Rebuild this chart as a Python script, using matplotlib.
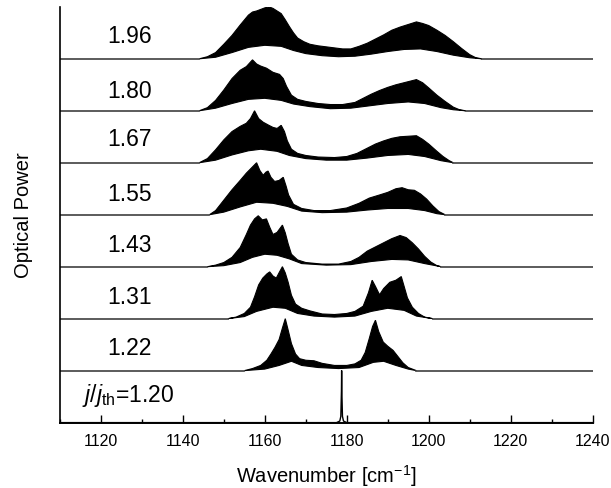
import numpy as np
import matplotlib.pyplot as plt

plt.rcParams['font.family'] = ['Liberation Sans', 'DejaVu Sans']
plt.rcParams['mathtext.fontset'] = 'custom'
plt.rcParams['mathtext.rm'] = 'Liberation Sans'
plt.rcParams['mathtext.it'] = 'Liberation Sans:italic'


## SPECTRA
#  each trace: upper envelope (x, y) and lower envelope (x, y) of the mode comb,
#  heights normalised to the trace spacing

# j/jth = 1.96
up_x_196 = [1144, 1146, 1148, 1150, 1152, 1154, 1156, 1157, 1158, 1159, 1160, 1161, 1162, 1163,
            1164, 1165, 1166, 1167, 1168, 1169.5, 1171, 1173, 1175, 1177, 1179, 1181, 1183,
            1185, 1187, 1189, 1191, 1193, 1195, 1197, 1198.5, 1200, 1202, 1204, 1206, 1208,
            1210, 1211.5, 1213]
up_y_196 = [0, 0.04, 0.12, 0.28, 0.45, 0.65, 0.84, 0.9, 0.92, 0.95, 0.98, 1.0, 0.97, 0.92,
            0.87, 0.75, 0.62, 0.5, 0.4, 0.33, 0.28, 0.25, 0.23, 0.21, 0.19, 0.19, 0.24,
            0.3, 0.38, 0.46, 0.55, 0.61, 0.66, 0.71, 0.68, 0.64, 0.55, 0.45, 0.33, 0.2,
            0.08, 0.02, 0]
lo_x_196 = [1144, 1148, 1152, 1156, 1160, 1164, 1167, 1170, 1174, 1178, 1182, 1186, 1190,
            1194, 1198, 1202, 1206, 1210, 1213]
lo_y_196 = [0, 0.03, 0.12, 0.22, 0.26, 0.24, 0.16, 0.1, 0.06, 0.04, 0.05, 0.09, 0.14,
            0.18, 0.19, 0.14, 0.07, 0.02, 0]

# j/jth = 1.80
up_x_180 = [1144, 1146, 1148, 1150, 1152, 1154, 1155.5, 1157, 1158, 1159, 1160.4, 1162,
            1163.6, 1164.5, 1165.3, 1166.5, 1168, 1170, 1173, 1176, 1179, 1182, 1184, 1186,
            1188, 1190, 1192, 1194, 1196, 1197, 1198.5, 1200, 1202, 1204, 1206, 1207.5, 1209]
up_y_180 = [0, 0.06, 0.2, 0.4, 0.62, 0.78, 0.85, 0.98, 0.9, 0.86, 0.82, 0.74,
            0.7, 0.62, 0.47, 0.3, 0.22, 0.18, 0.14, 0.12, 0.12, 0.16, 0.24, 0.32,
            0.39, 0.45, 0.5, 0.54, 0.58, 0.6, 0.54, 0.44, 0.3, 0.18, 0.07, 0.02, 0]
lo_x_180 = [1144, 1148, 1152, 1156, 1160, 1164, 1167, 1171, 1176, 1181, 1185, 1190, 1195,
            1199, 1203, 1206, 1209]
lo_y_180 = [0, 0.05, 0.14, 0.22, 0.24, 0.2, 0.13, 0.08, 0.04, 0.05, 0.09, 0.14, 0.17,
            0.14, 0.06, 0.02, 0]

# j/jth = 1.67
up_x_167 = [1144, 1146, 1148, 1150, 1152, 1154, 1155.5, 1156.5, 1157.5, 1158.5, 1159.6, 1161,
            1162, 1163, 1164, 1164.8, 1165.5, 1166.5, 1168, 1170, 1173, 1177, 1180, 1182.5,
            1185, 1187, 1189, 1191, 1193, 1195, 1197, 1198.5, 1200, 1202, 1203.5, 1205, 1206]
up_y_167 = [0, 0.08, 0.25, 0.44, 0.6, 0.7, 0.76, 0.85, 1.0, 0.85, 0.78, 0.72,
            0.68, 0.66, 0.72, 0.6, 0.42, 0.26, 0.18, 0.14, 0.11, 0.1, 0.12, 0.18,
            0.28, 0.36, 0.42, 0.47, 0.5, 0.51, 0.52, 0.45, 0.36, 0.22, 0.12, 0.04, 0]
lo_x_167 = [1144, 1148, 1152, 1156, 1159, 1163, 1166, 1170, 1175, 1180, 1185, 1190, 1195,
            1199, 1203, 1206]
lo_y_167 = [0, 0.05, 0.15, 0.23, 0.26, 0.22, 0.14, 0.08, 0.05, 0.05, 0.09, 0.14, 0.16,
            0.12, 0.04, 0]

# j/jth = 1.55
up_x_155 = [1146.5, 1148, 1150, 1152, 1154, 1155.5, 1156.5, 1157.5, 1158, 1158.8, 1159.6,
            1160.3, 1160.8, 1161.5, 1162.4, 1163.5, 1164.5, 1165.2, 1165.8, 1167, 1169, 1172,
            1176, 1180, 1183, 1185.5, 1188, 1190, 1192, 1193.5, 1195, 1196.5, 1198, 1199.5,
            1201, 1202.5, 1204]
up_y_155 = [0, 0.08, 0.28, 0.48, 0.66, 0.8, 0.88, 0.96, 1.0, 0.85, 0.76,
            0.82, 0.84, 0.72, 0.64, 0.66, 0.72, 0.55, 0.38, 0.2, 0.12, 0.08,
            0.08, 0.13, 0.22, 0.32, 0.38, 0.43, 0.5, 0.52, 0.48, 0.47, 0.4, 0.3,
            0.17, 0.06, 0]
lo_x_155 = [1146.5, 1150, 1154, 1158, 1162, 1165.5, 1169, 1174, 1180, 1185, 1190, 1195,
            1199, 1202, 1204]
lo_y_155 = [0, 0.05, 0.15, 0.24, 0.22, 0.16, 0.07, 0.04, 0.05, 0.09, 0.12, 0.12,
            0.08, 0.02, 0]

# j/jth = 1.43
up_x_143 = [1146, 1148, 1150, 1152, 1154, 1155.5, 1156.5, 1157.5, 1158.4, 1159.4, 1160.4,
            1161.2, 1162, 1163, 1164.3, 1165, 1165.7, 1166.5, 1168, 1170, 1174, 1178, 1181,
            1183, 1185, 1187, 1189, 1191, 1193, 1194.5, 1196, 1197.5, 1199, 1200.5, 1202, 1203]
up_y_143 = [0, 0.03, 0.08, 0.18, 0.37, 0.62, 0.8, 0.92, 0.98, 0.9, 0.92,
            0.76, 0.62, 0.66, 0.8, 0.65, 0.44, 0.24, 0.13, 0.08, 0.05, 0.05, 0.1,
            0.18, 0.3, 0.38, 0.46, 0.54, 0.6, 0.56, 0.46, 0.34, 0.2, 0.09, 0.02, 0]
lo_x_143 = [1146, 1150, 1154, 1157, 1160, 1163, 1166, 1169, 1175, 1181, 1186, 1191, 1195,
            1199, 1203]
lo_y_143 = [0, 0.02, 0.08, 0.18, 0.24, 0.22, 0.15, 0.06, 0.03, 0.04, 0.1, 0.14, 0.13,
            0.06, 0]

# j/jth = 1.31
up_x_131 = [1151, 1153, 1155, 1156.5, 1157.5, 1158.5, 1159.5, 1160.5, 1161.2, 1162, 1162.8,
            1163.6, 1164.3, 1165, 1165.7, 1166.5, 1167.5, 1169, 1171, 1174, 1177, 1180, 1182,
            1184, 1185.3, 1186.2, 1187, 1188, 1189, 1190.5, 1192, 1193.3, 1194, 1194.8, 1196,
            1197.5, 1199, 1201]
up_y_131 = [0, 0.03, 0.1, 0.22, 0.42, 0.65, 0.78, 0.86, 0.9, 0.82, 0.78,
            0.9, 1.0, 0.88, 0.7, 0.45, 0.28, 0.2, 0.15, 0.09, 0.08, 0.1, 0.14,
            0.24, 0.5, 0.74, 0.62, 0.46, 0.58, 0.7, 0.74, 0.81, 0.62, 0.4, 0.22,
            0.1, 0.03, 0]
lo_x_131 = [1151, 1155, 1158, 1162, 1165, 1168, 1172, 1177, 1182, 1186, 1190, 1194, 1197, 1201]
lo_y_131 = [0, 0.04, 0.14, 0.22, 0.2, 0.1, 0.05, 0.03, 0.05, 0.14, 0.2, 0.16, 0.05, 0]

# j/jth = 1.22
up_x_122 = [1155, 1157, 1159, 1160.5, 1161.5, 1162.5, 1163.5, 1164.3, 1165, 1165.7, 1166.5,
            1167.5, 1168.5, 1170, 1172, 1174, 1177, 1180, 1182, 1183.5, 1184.5, 1185.5,
            1186.3, 1187, 1187.8, 1188.9, 1190, 1191.3, 1192.5, 1193.7, 1195, 1197]
up_y_122 = [0, 0.04, 0.1, 0.2, 0.32, 0.45, 0.6, 0.82, 1.0, 0.78, 0.52,
            0.32, 0.23, 0.2, 0.19, 0.14, 0.1, 0.1, 0.13, 0.2, 0.35, 0.62,
            0.85, 0.97, 0.75, 0.55, 0.47, 0.39, 0.27, 0.15, 0.06, 0]
lo_x_122 = [1155, 1160, 1163.5, 1166.5, 1169, 1173, 1178, 1183, 1186.5, 1189, 1192, 1195, 1197]
lo_y_122 = [0, 0.03, 0.1, 0.18, 0.1, 0.06, 0.04, 0.06, 0.16, 0.18, 0.1, 0.03, 0]

# j/jth = 1.20, single mode
x_120 = [1110, 1177.5, 1178.3, 1178.55, 1178.7, 1178.75, 1178.8, 1178.95, 1179.2, 1180, 1240]
y_120 = [0, 0, 0.03, 0.12, 0.6, 1.0, 0.6, 0.12, 0.03, 0, 0]

labels = ["1.22", "1.31", "1.43", "1.55", "1.67", "1.80", "1.96"]
label_y = [0.43, 0.41, 0.41, 0.38, 0.44, 0.38, 0.42]

traces = [(up_x_122, up_y_122, lo_x_122, lo_y_122),
          (up_x_131, up_y_131, lo_x_131, lo_y_131),
          (up_x_143, up_y_143, lo_x_143, lo_y_143),
          (up_x_155, up_y_155, lo_x_155, lo_y_155),
          (up_x_167, up_y_167, lo_x_167, lo_y_167),
          (up_x_180, up_y_180, lo_x_180, lo_y_180),
          (up_x_196, up_y_196, lo_x_196, lo_y_196)]

x_min, x_max = 1110, 1240


## PLOT
fig = plt.figure(figsize=(6.11, 4.88), dpi=100)
ax = fig.add_axes([0.098, 0.134, 0.872, 0.852])

ax.plot(x_120, y_120, color='k', lw=1.0)
ax.text(1115.3, 0.52, r"$j/j_{\rm th}$=1.20", fontsize=16.5, va='center', ha='left')

for k, (ux, uy, lx, ly) in enumerate(traces):
    off = k + 1
    # flat baseline either side of the emission
    ax.plot([x_min, ux[0]], [off, off], color='0.25', lw=1.2)
    ax.plot([ux[-1], x_max], [off, off], color='0.25', lw=1.2)
    px = np.concatenate([ux, lx[::-1]])
    py = np.concatenate([uy, ly[::-1]]) + off
    ax.fill(px, py, color='k', lw=0.8)
    ax.text(1121.5, off + label_y[k], labels[k], fontsize=16.5, va='center', ha='left')

ax.set_xlim(x_min, x_max)
ax.set_ylim(0, 8.0)
ax.set_xticks(np.arange(1120, 1241, 20))
ax.set_xticks(np.arange(1110, 1241, 10), minor=True)
ax.set_yticks([])
ax.tick_params(axis='x', which='major', direction='in', length=6, width=1, pad=8, labelsize=11.5)
ax.tick_params(axis='x', which='minor', direction='in', length=3, width=1)
ax.spines['top'].set_visible(False)
ax.spines['right'].set_visible(False)
ax.spines['left'].set_linewidth(1.2)
ax.spines['bottom'].set_linewidth(1.4)

ax.set_xlabel(r"Wavenumber [cm$^{\mathregular{-1}}$]", fontsize=14.5, labelpad=10)
ax.set_ylabel("Optical Power", fontsize=14.5, labelpad=19)

plt.savefig("out.png", dpi=100)
